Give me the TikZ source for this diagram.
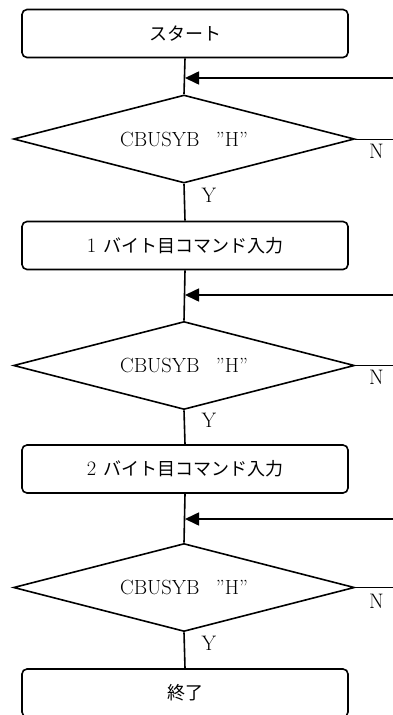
\documentclass[tikz,border=0pt]{standalone}
\usepackage{fontspec}
\newfontfamily\jp{Noto Sans CJK JP}
\usetikzlibrary{shapes.geometric,arrows.meta}
\begin{document}
\begin{tikzpicture}[x=1pt,y=-1pt,
  procbox/.style={draw,line width=1.6pt,rounded corners=5pt,minimum width=326pt,minimum height=48pt,inner sep=0pt,font=\fontsize{18}{20}\selectfont},
  decision/.style={draw,line width=1.6pt,diamond,aspect=3.875,minimum width=341pt,minimum height=88pt,inner sep=0pt,font=\fontsize{20.5}{22}\selectfont},
  flow/.style={line width=1.6pt},
  back/.style={line width=1.6pt,-{Triangle[length=14pt,width=13pt]}},
  nline/.style={line width=1pt},
  lbl/.style={font=\fontsize{21}{22}\selectfont,inner sep=0pt}]
\useasboundingbox (0,0) rectangle (393,715);
\node[procbox] (s) at (185,33.5) {\jp スタート};
\node[decision] (d1) at (184,139) {CBUSYB\hspace{0.8em}”H”};
\node[procbox] (p1) at (185,245.5) {{\fontsize{20.5}{22}\selectfont 1}\hspace{7pt}{\jp バイト目コマンド入力}};
\node[decision] (d2) at (184,365.5) {CBUSYB\hspace{0.8em}”H”};
\node[procbox] (p2) at (185,469) {{\fontsize{20.5}{22}\selectfont 2}\hspace{7pt}{\jp バイト目コマンド入力}};
\node[decision] (d3) at (184,587.5) {CBUSYB\hspace{0.8em}”H”};
\node[procbox] (e) at (185,693) {\jp 終了};
\coordinate (j1) at (185,78);
\coordinate (j2) at (185,295);
\coordinate (j3) at (185,519);
\coordinate (r1) at (393,78);
\coordinate (r2) at (393,295);
\coordinate (r3) at (393,519);
\coordinate (n1) at (393,139);
\coordinate (n2) at (393,365.5);
\coordinate (n3) at (393,587.5);
\draw[flow] (s.south) -- (d1.north);
\draw[flow] (d1.south) -- (p1.north);
\draw[flow] (p1.south) -- (d2.north);
\draw[flow] (d2.south) -- (p2.north);
\draw[flow] (p2.south) -- (d3.north);
\draw[flow] (d3.south) -- (e.north);
\draw[back] (r1) -- (j1);
\draw[back] (r2) -- (j2);
\draw[back] (r3) -- (j3);
\draw[nline] (d1.east) -- (n1);
\draw[nline] (d2.east) -- (n2);
\draw[nline] (d3.east) -- (n3);
\node[lbl] (N1) at ([shift={(21,12)}]d1.east) {N};
\node[lbl] (N2) at ([shift={(21,12)}]d2.east) {N};
\node[lbl] (N3) at ([shift={(21,14)}]d3.east) {N};
\node[lbl] (Y1) at ([shift={(25,12)}]d1.south) {Y};
\node[lbl] (Y2) at ([shift={(25,10)}]d2.south) {Y};
\node[lbl] (Y3) at ([shift={(25,11)}]d3.south) {Y};
\end{tikzpicture}
\end{document}
